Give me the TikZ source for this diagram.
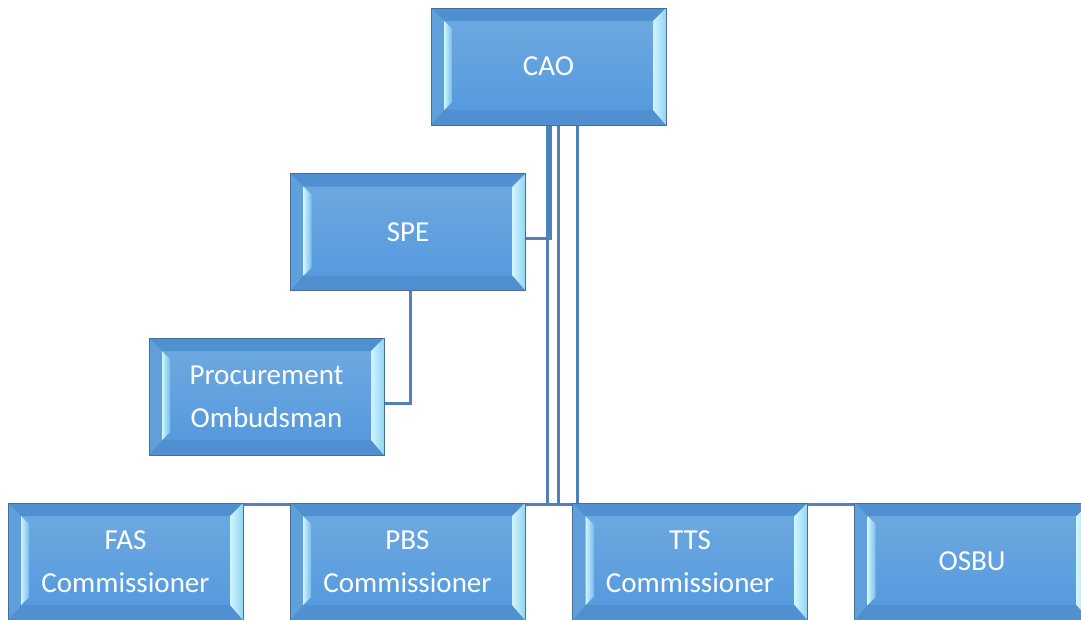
\documentclass[tikz,border=0pt]{standalone}
\usepackage{fontspec}
\setmainfont{Carlito}
\usetikzlibrary{calc}

\definecolor{facetop}{RGB}{112,170,224}
\definecolor{facebot}{RGB}{82,152,222}
\definecolor{topbev}{RGB}{110,168,224}
\definecolor{botbev}{RGB}{80,144,208}
\definecolor{sidebev}{RGB}{96,160,218}
\definecolor{edgeblue}{RGB}{70,110,150}
\definecolor{bevlight}{RGB}{208,245,255}
\definecolor{bevmid}{RGB}{145,212,242}
\definecolor{linkblue}{RGB}{79,129,189}

\tikzset{
  orgbox/.style={
    minimum width=235pt, minimum height=117pt, inner sep=0pt,
    top color=facetop, bottom color=facebot,
    draw=edgeblue, line width=0.7pt,
    text=white, font=\fontsize{29}{43}\selectfont, align=center,
    path picture={
      \path let \p1=(path picture bounding box.south west),
                \p2=(path picture bounding box.north east) in
        % top and bottom faces of the bevel
        [fill=topbev] (\x1,\y2) -- (\x2,\y2) -- (\x2-13pt,\y2-13pt) -- (\x1+13pt,\y2-13pt) -- cycle
        [fill=botbev] (\x1,\y1) -- (\x2,\y1) -- (\x2-13pt,\y1+15pt) -- (\x1+13pt,\y1+15pt) -- cycle;
      \path let \p1=(path picture bounding box.south west),
                \p2=(path picture bounding box.north east) in
        [fill=sidebev] (\x1,\y1) -- (\x1,\y2) -- (\x1+13pt,\y2-13pt) -- (\x1+13pt,\y1+15pt) -- cycle;
      % bright inner strip on the left side
      \shade let \p1=(path picture bounding box.south west),
                 \p2=(path picture bounding box.north east) in
        [left color=bevlight, right color=bevmid!60!facebot]
        (\x1+13pt,\y2-13pt) -- (\x1+21pt,\y2-21pt) -- (\x1+21pt,\y1+23pt) -- (\x1+13pt,\y1+15pt) -- cycle;
      % bright right face
      \shade let \p1=(path picture bounding box.south west),
                 \p2=(path picture bounding box.north east) in
        [left color=bevlight, right color=bevmid]
        (\x2,\y2) -- (\x2,\y1) -- (\x2-13pt,\y1+15pt) -- (\x2-13pt,\y2-13pt) -- cycle;
    }},
  link/.style={draw=linkblue, line width=3pt},
}

\begin{document}
\begin{tikzpicture}[x=1pt, y=-1pt]
  \useasboundingbox (0,0) rectangle (1081,619);

  % positions of the units
  \coordinate (pcao)   at (548.5,66.5);
  \coordinate (pspe)   at (408,232);
  \coordinate (pombud) at (266.5,396.5);
  \coordinate (pfas)   at (125.5,561.5);
  \coordinate (ppbs)   at (407.5,561.5);
  \coordinate (ptts)   at (690,561.5);
  \coordinate (posbu)  at (972,561.5);

  % connectors sit underneath the boxes
  \path (pcao) ++(0,58.5) coordinate (caobase);
  \path (pspe) ++(117.5,6) coordinate (spejoin);
  \path (pspe) ++(2,58) coordinate (spebase);
  \path (pombud) ++(117,6.5) coordinate (ombudjoin);
  \path (pfas) ++(0,-57) coordinate (fastop);
  \path (ppbs) ++(0,-57) coordinate (pbstop);
  \path (ptts) ++(0,-57) coordinate (ttstop);
  \path (posbu) ++(0,-57) coordinate (osbutop);

  \draw[link] ([xshift=-1.5pt]caobase) |- (fastop);
  \draw[link] ([xshift=-1.5pt]caobase) |- (ttstop);
  \draw[link] ([xshift=1.5pt]caobase) |- (spejoin);
  \draw[link] ([xshift=9.5pt]caobase) |- (pbstop);
  \draw[link] ([xshift=28.5pt]caobase) |- (osbutop);
  \draw[link] (spebase) |- (ombudjoin);

  % organisational units
  \node[orgbox] (cao)   at (pcao)   {CAO};
  \node[orgbox] (spe)   at (pspe)   {SPE};
  \node[orgbox] (ombud) at (pombud) {Procurement\\Ombudsman};
  \node[orgbox] (fas)   at (pfas)   {FAS\\Commissioner};
  \node[orgbox] (pbs)   at (ppbs)   {PBS\\Commissioner};
  \node[orgbox] (tts)   at (ptts)   {TTS\\Commissioner};
  \node[orgbox] (osbu)  at (posbu)  {OSBU};
\end{tikzpicture}
\end{document}
